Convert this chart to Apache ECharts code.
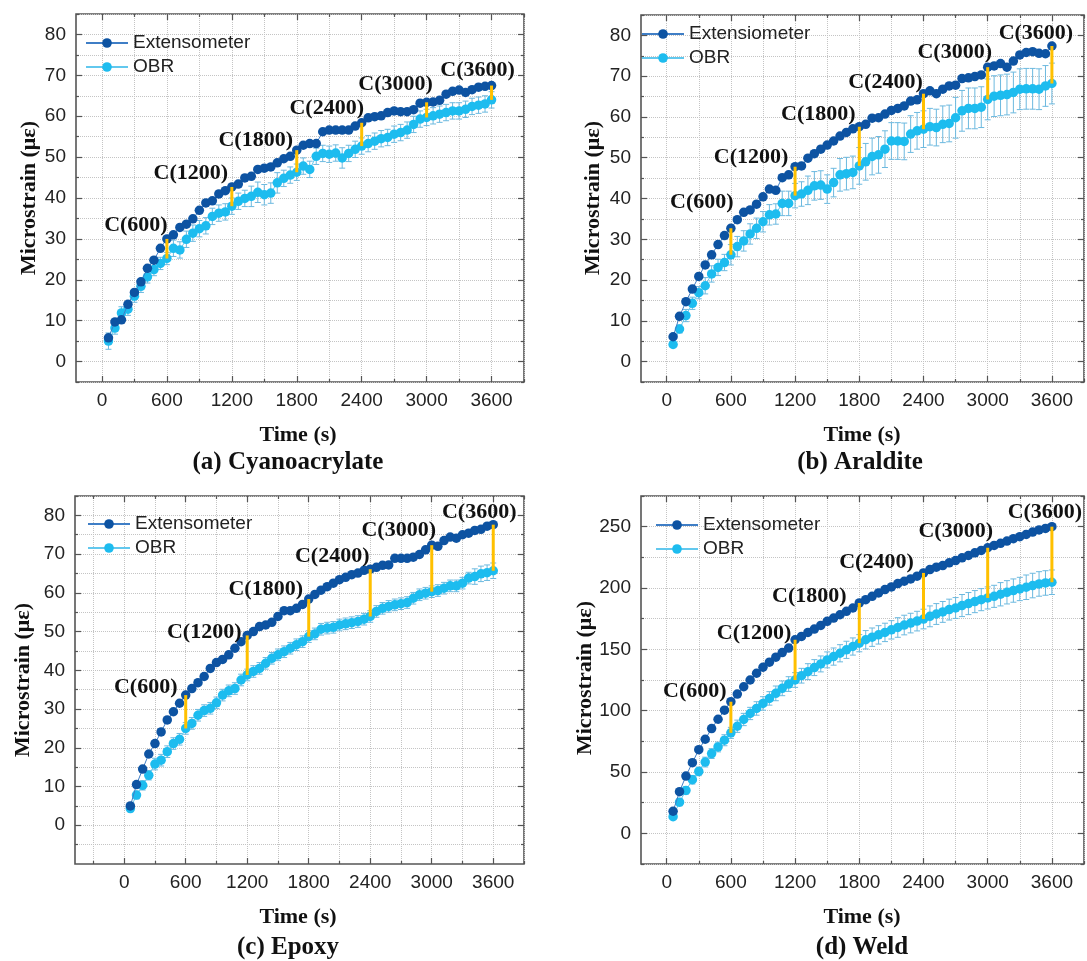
<!DOCTYPE html>
<html><head><meta charset="utf-8">
<script src="https://cdn.jsdelivr.net/npm/echarts@6/dist/echarts.min.js"></script>
<style>html,body{margin:0;padding:0;background:#fff}#c{width:1087px;height:961px}</style>
</head><body><div id="c"></div>
<script>
// ---------- DATA ----------
const time = [60,120,180,240,300,360,420,480,540,600,660,720,780,840,900,960,1020,1080,1140,1200,
  1260,1320,1380,1440,1500,1560,1620,1680,1740,1800,1860,1920,1980,2040,2100,2160,2220,2280,2340,2400,
  2460,2520,2580,2640,2700,2760,2820,2880,2940,3000,3060,3120,3180,3240,3300,3360,3420,3480,3540,3600];
const cTimes = [600,1200,1800,2400,3000,3600];
const xMajorTicks = [0,600,1200,1800,2400,3000,3600];
const xMinorTicks = [-300,300,900,1500,2100,2700,3300,3900];
const yMajorTicks80 = [0,10,20,30,40,50,60,70,80];
const yMinorTicks80 = [-5,5,15,25,35,45,55,65,75,85];
const yMajorTicks250 = [0,50,100,150,200,250];
const yMinorTicks250 = [-25,25,75,125,175,225,275];

const extA = [5.8,9.7,10.2,14.0,16.9,19.5,22.8,24.8,27.7,30.0,31.0,32.8,33.6,34.9,37.0,38.8,39.3,41.0,41.8,42.7,
  43.4,44.9,45.3,47.0,47.3,47.6,48.6,49.6,50.2,51.7,52.9,53.3,53.3,56.2,56.6,56.6,56.6,56.6,57.6,58.4,
  59.6,59.9,60.1,60.9,61.3,61.1,61.1,61.6,63.2,63.4,63.5,63.9,65.4,66.1,66.4,65.8,66.5,67.1,67.3,67.5];
const obrA = [5.0,8.2,11.9,12.8,16.0,18.4,20.7,22.5,24.0,25.2,27.7,27.3,29.9,31.4,32.5,33.2,35.5,36.3,36.6,38.0,
  39.2,39.9,40.4,41.4,40.8,41.2,43.7,44.8,45.6,46.3,47.8,47.0,50.2,50.9,50.7,51.0,49.8,50.9,51.9,52.7,
  53.3,53.9,54.5,54.8,55.6,56.0,56.6,58.0,59.3,59.7,60.1,60.5,60.9,61.3,61.3,61.7,62.4,62.7,63.0,64.0];
const errA = [2,1.5,1.5,1.5,1.5,1.5,1.5,1.5,1.5,1.5,2,2,2,2,2,2,2,2,2,2,
  2,2,2.5,2.5,2.5,2.5,2.5,2,2,2,2,2,2,2,2,2,2.5,2,2,2,
  2,2,2,2,2,2,2,2,2,2,2,2,2,2,2,2,2,2,2,2];

const extB = [6.1,11.1,14.7,17.8,20.9,23.7,26.2,28.7,30.9,32.7,34.8,36.6,37.2,38.6,40.4,42.3,42.0,45.1,45.8,47.8,
  48.0,49.9,51.0,52.1,53.1,54.1,55.3,56.2,57.1,57.6,58.2,59.7,59.8,60.7,61.6,62.1,62.7,63.9,64.2,65.7,
  66.4,65.7,66.8,67.6,67.8,69.4,69.6,69.9,70.3,72.2,72.5,73.1,72.2,73.7,75.2,75.8,76.0,75.6,75.5,77.4];
const obrB = [4.2,8.0,11.3,14.3,16.9,18.6,21.5,23.1,24.3,26.2,28.2,29.6,31.3,32.7,34.3,36.0,36.2,38.8,38.8,40.7,
  41.1,42.0,43.1,43.3,42.3,43.9,45.8,46.1,46.4,48.0,49.0,50.3,50.7,52.1,54.1,54.1,54.0,55.8,56.6,57.0,
  57.6,57.4,58.2,58.4,59.8,61.5,62.1,62.1,62.4,64.3,65.1,65.3,65.5,66.0,66.8,66.9,66.9,66.8,67.6,68.2];
const errB = [0.5,1,1.5,1.5,1.5,2,2,2,2,2.5,2.5,2.5,2.5,2.5,2.5,2.5,2.5,3,3,3,
  3,3.5,3.5,3.5,3.5,3.5,4,4,4,4.5,4.5,4.5,4.5,4.5,4.5,4.5,4.5,4.5,4.5,4.5,
  4.5,4.5,4.5,4.5,5,5,5,5,5,5,5,5,5,5,5,5,5,5,5,5];

const extC = [5.0,10.5,14.5,18.4,21.1,24.1,27.2,29.3,31.5,33.6,35.3,36.8,38.4,40.5,42.0,42.8,44.0,45.7,47.4,49.0,
  50.0,51.3,51.7,52.4,53.9,55.4,55.4,56.0,57.0,58.4,59.6,60.7,61.6,62.5,63.4,64.0,64.7,65.1,65.8,66.1,
  66.6,67.1,67.2,68.9,68.9,68.9,69.2,69.9,71.1,72.3,72.0,73.5,74.4,74.1,75.0,75.4,76.1,76.4,77.2,77.6];
const obrC = [4.3,7.8,10.3,12.9,15.8,16.8,19.0,21.1,22.2,25.0,26.3,28.4,29.6,30.2,31.6,33.6,34.7,35.3,37.5,38.8,
  39.7,40.5,41.8,43.1,44.0,44.8,45.7,46.6,47.4,48.7,49.4,50.6,50.9,51.1,51.7,52.0,52.3,52.6,53.2,53.9,
  55.2,56.0,56.5,56.9,57.2,57.5,58.6,59.5,59.9,60.3,60.6,61.2,61.8,61.8,62.5,63.8,64.2,64.9,65.2,65.7];
const errC = [0.8,1,1.2,1.2,1.5,1.5,1.5,1.5,1.5,1.5,1.5,1.5,1.5,1.5,1.5,1.5,1.5,1.5,1.5,1.5,
  1.5,1.5,1.5,1.5,1.5,1.5,1.5,1.5,1.5,1.5,1.5,1.5,1.5,1.5,1.5,1.5,1.5,1.5,1.5,1.5,
  1.5,1.5,1.5,1.5,1.5,1.5,1.5,1.5,1.5,1.5,1.5,1.5,1.5,1.5,1.5,1.5,2,2,2,2];

const extD = [18.0,34.0,46.7,57.6,68.2,76.7,85.4,93.0,100.4,107.3,113.5,119.5,125.0,130.5,135.4,139.5,143.6,147.4,151.0,157.8,
  160.5,163.8,166.5,169.5,172.8,175.5,178.2,181.0,183.7,187.8,190.5,193.2,196.0,198.7,200.9,203.6,205.5,207.4,209.6,212.3,
  215.0,217.0,218.3,220.5,222.4,224.6,226.5,228.7,230.6,232.8,234.7,236.4,238.3,240.2,241.8,243.7,245.6,247.3,248.6,250.0];
const obrD = [13.6,25.4,35.0,43.7,50.5,58.1,65.0,70.4,75.9,81.9,87.3,92.8,97.7,101.8,105.9,110.0,114.1,118.2,121.7,125.0,
  128.5,131.8,135.1,138.1,141.4,144.1,146.8,149.6,152.3,155.0,157.8,159.9,161.8,163.8,165.9,167.8,169.8,171.4,173.0,174.7,
  176.9,178.8,180.5,182.4,183.7,185.7,187.3,188.9,190.5,191.9,193.2,194.9,196.5,197.9,199.2,200.6,202.0,203.3,204.1,204.7];
const errD = [2,3,3,3.5,3.5,4,4,4,4.5,4.5,5,5,5,5.5,5.5,5.5,6,6,6,6,
  6,6.5,6.5,6.5,6.5,7,7,7,7,7,7.5,7.5,7.5,7.5,7.5,8,8,8,8,8,
  8.5,8.5,8.5,8.5,8.5,9,9,9,9,9,9,9.5,9.5,9.5,9.5,10,10,10,10,10];

const extNames = ['Extensometer','Extensiometer','Extensometer','Extensometer'];
const obrName = 'OBR';
const captions = ['(a) Cyanoacrylate','(b) Araldite','(c) Epoxy','(d) Weld'];
const xTitle = 'Time (s)';
const yTitle = 'Microstrain (\u03bc\u03b5)';

// ---------- LAYOUT / STYLE ----------
const panels = [
  {ext:extA, obr:obrA, err:errA, grid:{left:76,top:14,width:448,height:368}, xMin:-240, xMax:3900, yMin:-5, yMax:85,
   yMaj:yMajorTicks80, yMin_:yMinorTicks80, leg:{left:85,top:33}, timeXY:[298,435], capXY:[288,463], yTitleXY:[29,198],
   offs:[[-31,-14],[-41,-14],[-41,-10],[-35,-14],[-31,-18],[-14,-15]]},
  {ext:extB, obr:obrB, err:errB, grid:{left:641,top:15,width:443,height:367}, xMin:-240, xMax:3900, yMin:-5, yMax:85,
   yMaj:yMajorTicks80, yMin_:yMinorTicks80, leg:{left:641,top:24}, timeXY:[862,435], capXY:[860,463], yTitleXY:[593,198],
   offs:[[-29,-26],[-44,-9],[-41,-12],[-38,-11],[-33,-15],[-16,-13]]},
  {ext:extC, obr:obrC, err:errC, grid:{left:75,top:496,width:449,height:368}, xMin:-480, xMax:3900, yMin:-10, yMax:85,
   yMaj:yMajorTicks80, yMin_:yMinorTicks80, leg:{left:87,top:514}, timeXY:[298,917], capXY:[288,948], yTitleXY:[23,680],
   offs:[[-40,-8],[-43,-3],[-43,-10],[-38,-13],[-33,-15],[-14,-12]]},
  {ext:extD, obr:obrD, err:errD, grid:{left:641,top:496,width:443,height:368}, xMin:-240, xMax:3900, yMin:-25, yMax:275,
   yMaj:yMajorTicks250, yMin_:yMinorTicks250, leg:{left:655,top:515}, timeXY:[862,917], capXY:[862,948], yTitleXY:[585,678],
   offs:[[-36,-10],[-41,-6],[-50,-7],[-47,-11],[-32,-16],[-7,-14]]}
];

const C_EXT = '#0d53a2', C_EXT_LINE = '#3f7ec6';
const C_OBR = '#1dbcef', C_OBR_LINE = '#62c8ee';
const C_ERR = '#6cb9df', C_YEL = '#ffc000';
const FRAME = '#555';
const SANS = '"Liberation Sans", Arial, sans-serif';
const SERIF = '"Liberation Serif", "Times New Roman", serif';

const grids = [], xAxes = [], yAxes = [], series = [], legends = [], graphics = [];

function addX(gi, P, pos, vals, len, label, split) {
  xAxes.push({
    type:'value', gridIndex:gi, min:P.xMin, max:P.xMax, position:pos,
    axisLine:{show:false, onZero:false},
    axisTick:{show:true, inside:true, length:len, customValues:vals, lineStyle:{color:FRAME, width:1.2}},
    axisLabel:{show:label, customValues:vals, margin:9, fontSize:19, fontFamily:SANS, color:'#222', formatter:v=>String(v)},
    splitLine:{show:split, lineStyle:{color:'#c4c4c4', type:'dotted', width:1}}
  });
  return xAxes.length - 1;
}
function addY(gi, P, pos, vals, len, label, split) {
  yAxes.push({
    type:'value', gridIndex:gi, min:P.yMin, max:P.yMax, position:pos,
    axisLine:{show:false, onZero:false},
    axisTick:{show:true, inside:true, length:len, customValues:vals, lineStyle:{color:FRAME, width:1.2}},
    axisLabel:{show:label, customValues:vals, margin:10, fontSize:19, fontFamily:SANS, color:'#222', formatter:v=>String(v)},
    splitLine:{show:split, lineStyle:{color:'#c4c4c4', type:'dotted', width:1}}
  });
  return yAxes.length - 1;
}

panels.forEach((P, gi) => {
  grids.push(Object.assign({show:true, borderColor:FRAME, borderWidth:1.6, backgroundColor:'transparent', containLabel:false}, P.grid));
  const xi = addX(gi, P, 'bottom', xMajorTicks, 6, true, true);
  addX(gi, P, 'bottom', xMinorTicks, 3, false, true);
  addX(gi, P, 'top', xMajorTicks, 6, false, false);
  addX(gi, P, 'top', xMinorTicks, 3, false, false);
  const yi = addY(gi, P, 'left', P.yMaj, 6, true, true);
  addY(gi, P, 'left', P.yMin_, 3, false, true);
  addY(gi, P, 'right', P.yMaj, 6, false, false);
  addY(gi, P, 'right', P.yMin_, 3, false, false);

  // error bars for OBR
  series.push({
    type:'custom', xAxisIndex:xi, yAxisIndex:yi, z:2, silent:true,
    data: time.map((t, i) => [t, P.obr[i] - P.err[i], P.obr[i] + P.err[i]]),
    encode:{x:0, y:[1,2]},
    renderItem:(params, api) => {
      const x = api.value(0);
      const lo = api.coord([x, api.value(1)]);
      const hi = api.coord([x, api.value(2)]);
      const st = {stroke:C_ERR, lineWidth:1};
      const w = 3;
      return {type:'group', children:[
        {type:'line', shape:{x1:lo[0], y1:lo[1], x2:hi[0], y2:hi[1]}, style:st},
        {type:'line', shape:{x1:lo[0]-w, y1:lo[1], x2:lo[0]+w, y2:lo[1]}, style:st},
        {type:'line', shape:{x1:hi[0]-w, y1:hi[1], x2:hi[0]+w, y2:hi[1]}, style:st}
      ]};
    }
  });
  series.push({
    name:obrName, type:'line', xAxisIndex:xi, yAxisIndex:yi, z:3,
    data: time.map((t, i) => [t, P.obr[i]]),
    symbol:'circle', symbolSize:9.5, showAllSymbol:true,
    itemStyle:{color:C_OBR}, lineStyle:{color:C_OBR_LINE, width:1}
  });
  series.push({
    name:extNames[gi], type:'line', xAxisIndex:xi, yAxisIndex:yi, z:4,
    data: time.map((t, i) => [t, P.ext[i]]),
    symbol:'circle', symbolSize:9.5, showAllSymbol:true,
    itemStyle:{color:C_EXT}, lineStyle:{color:C_EXT_LINE, width:1}
  });
  // yellow difference lines with C(t) labels
  series.push({
    type:'custom', xAxisIndex:xi, yAxisIndex:yi, z:5, silent:true, clip:false,
    data: cTimes.map(t => { const i = time.indexOf(t); return [t, P.ext[i], P.obr[i]]; }),
    encode:{x:0, y:[1,2]},
    renderItem:(params, api) => {
      const t = api.value(0);
      const a = api.coord([t, api.value(1)]);
      const b = api.coord([t, api.value(2)]);
      const o = P.offs[params.dataIndex];
      return {type:'group', children:[
        {type:'line', shape:{x1:a[0], y1:a[1], x2:b[0], y2:b[1]}, style:{stroke:C_YEL, lineWidth:3}},
        {type:'text', x:a[0] + o[0], y:a[1] + o[1], style:{text:'C(' + t + ')', fill:'#111',
          fontSize:22, fontWeight:'bold', fontFamily:SERIF,
          align:'center', verticalAlign:'middle', textAlign:'center', textVerticalAlign:'middle'}}
      ]};
    }
  });
  legends.push({
    orient:'vertical', left:P.leg.left, top:P.leg.top, padding:0, itemWidth:42, itemHeight:12, itemGap:4,
    selectedMode:false, data:[extNames[gi], obrName],
    textStyle:{fontSize:19, fontFamily:SANS, color:'#222', lineHeight:20}
  });
  graphics.push({type:'text', x:P.timeXY[0], y:P.timeXY[1], style:{text:xTitle, fill:'#111', fontSize:22, fontWeight:'bold', fontFamily:SERIF, align:'center', verticalAlign:'middle'}});
  graphics.push({type:'text', x:P.capXY[0], y:P.capXY[1], style:{text:captions[gi], fill:'#111', fontSize:25, fontWeight:'bold', fontFamily:SERIF, align:'center', verticalAlign:'middle'}});
  graphics.push({type:'text', x:P.yTitleXY[0], y:P.yTitleXY[1], rotation:Math.PI/2, style:{text:yTitle, fill:'#111', fontSize:22, fontWeight:'bold', fontFamily:SERIF, align:'center', verticalAlign:'middle'}});
});

const chart = echarts.init(document.getElementById('c'), null, {renderer:'canvas'});
chart.setOption({
  animation:false,
  backgroundColor:'#fff',
  grid:grids, xAxis:xAxes, yAxis:yAxes, series:series, legend:legends, graphic:graphics
});
</script>
</body></html>
